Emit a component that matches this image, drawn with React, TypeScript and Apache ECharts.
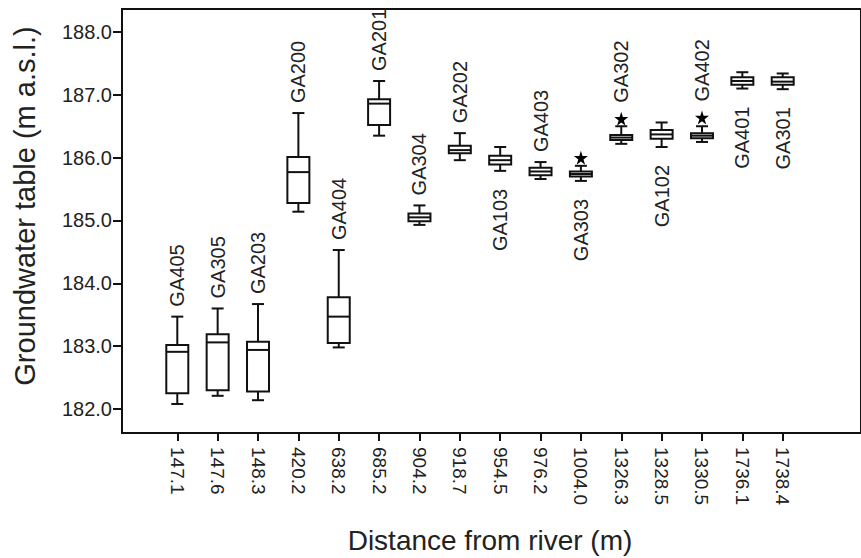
import React, { useEffect, useRef } from "react";
import * as echarts from "echarts";

// Distance from river (m) – x tick labels
const distances = ["147.1", "147.6", "148.3", "420.2", "638.2", "685.2", "904.2", "918.7", "954.5", "976.2", "1004.0", "1326.3", "1328.5", "1330.5", "1736.1", "1738.4"];
// Well names
const wells = ["GA405", "GA305", "GA203", "GA200", "GA404", "GA201", "GA304", "GA202", "GA103", "GA403", "GA303", "GA302", "GA102", "GA402", "GA401", "GA301"];
// Side of the well label relative to the box
const labelSide = ["above", "above", "above", "above", "above", "above", "above", "above", "below", "above", "below", "above", "below", "above", "below", "below"];
// Box statistics (m a.s.l.)
const whiskerLow = [182.08, 182.21, 182.14, 185.14, 182.98, 186.35, 184.93, 185.96, 185.79, 185.66, 185.63, 186.22, 186.17, 186.25, 187.10, 187.09];
const q1 = [182.25, 182.30, 182.28, 185.28, 183.05, 186.52, 184.99, 186.07, 185.89, 185.72, 185.70, 186.28, 186.30, 186.31, 187.16, 187.16];
const median = [182.91, 183.06, 182.94, 185.77, 183.47, 186.86, 185.05, 186.12, 185.96, 185.78, 185.74, 186.32, 186.37, 186.35, 187.22, 187.21];
const q3 = [183.02, 183.19, 183.07, 186.01, 183.78, 186.93, 185.11, 186.19, 186.03, 185.84, 185.78, 186.36, 186.44, 186.39, 187.28, 187.28];
const whiskerHigh = [183.47, 183.60, 183.67, 186.71, 184.53, 187.22, 185.24, 186.39, 186.17, 185.93, 185.87, 186.50, 186.56, 186.50, 187.36, 187.34];
// Extreme values (stars)
const outlierIdx = [10, 11, 13];
const outlierVal = [186.0, 186.62, 186.64];
// Y axis ticks
const yTicks = [182, 183, 184, 185, 186, 187, 188];

const FONT = '"Liberation Sans", Arial, Helvetica, sans-serif';
const STAR = "path://M50,0 L61,35 L98,35 L68,57 L79,91 L50,70 L21,91 L32,57 L2,35 L39,35 Z";

export default function App() {
  const ref = useRef<HTMLDivElement>(null);

  useEffect(() => {
    document.body.style.margin = "0";
    if (!ref.current) return;
    const chart = echarts.init(ref.current, null, { renderer: "svg" });

    const idx = distances.map((_, i) => i);
    const boxData = idx.map((i) => [i, whiskerLow[i], q1[i], median[i], q3[i], whiskerHigh[i]]);
    const starData = outlierIdx.map((i, k) => [i, outlierVal[k]]);

    const lineStyle = { stroke: "#111", lineWidth: 2 };

    const option: any = {
      animation: false,
      backgroundColor: "#fff",
      grid: {
        left: 122,
        top: 9,
        width: 775,
        height: 424,
        show: true,
        borderColor: "#111",
        borderWidth: 2,
        backgroundColor: "transparent",
      },
      xAxis: {
        type: "value",
        min: -1.37,
        max: 16.94,
        splitLine: { show: false },
        axisLine: { show: true, onZero: false, lineStyle: { color: "#111", width: 2 } },
        axisTick: { show: true, customValues: idx, length: 8, lineStyle: { color: "#111", width: 2 } },
        axisLabel: {
          customValues: idx,
          rotate: -90,
          margin: 14,
          color: "#222",
          fontSize: 19,
          fontFamily: FONT,
          formatter: (v: number) => distances[Math.round(v)] ?? "",
        },
      },
      yAxis: {
        type: "value",
        min: 181.618,
        max: 188.366,
        splitLine: { show: false },
        axisLine: { show: true, onZero: false, lineStyle: { color: "#111", width: 2 } },
        axisTick: { show: true, customValues: yTicks, length: 9, lineStyle: { color: "#111", width: 2 } },
        axisLabel: {
          customValues: yTicks,
          margin: 10,
          color: "#222",
          fontSize: 20,
          fontFamily: FONT,
          formatter: (v: number) => v.toFixed(1),
        },
      },
      graphic: [
        {
          type: "text",
          x: 490,
          y: 540,
          style: {
            text: "Distance from river (m)",
            font: `28px ${FONT}`,
            fill: "#222",
            align: "center",
            verticalAlign: "middle",
          },
        },
        {
          type: "text",
          x: 25,
          y: 206,
          rotation: Math.PI / 2,
          style: {
            text: "Groundwater table (m a.s.l.)",
            font: `29px ${FONT}`,
            fill: "#222",
            align: "center",
            verticalAlign: "middle",
          },
        },
      ],
      series: [
        {
          type: "custom",
          clip: false,
          data: boxData,
          encode: { x: 0, y: [1, 2, 3, 4, 5] },
          renderItem: (params: any, api: any) => {
            const i = api.value(0);
            const x = api.coord([i, api.value(3)])[0];
            const yLow = api.coord([i, api.value(1)])[1];
            const yQ1 = api.coord([i, api.value(2)])[1];
            const yMed = api.coord([i, api.value(3)])[1];
            const yQ3 = api.coord([i, api.value(4)])[1];
            const yHigh = api.coord([i, api.value(5)])[1];
            const k = outlierIdx.indexOf(i);
            const yTop = k >= 0 ? Math.min(yHigh, api.coord([i, outlierVal[k]])[1] - 6) : yHigh;
            const bw = 11;
            const cw = 6;
            const above = labelSide[params.dataIndex] === "above";
            return {
              type: "group",
              children: [
                { type: "line", shape: { x1: x, y1: yHigh, x2: x, y2: yQ3 }, style: lineStyle },
                { type: "line", shape: { x1: x - cw, y1: yHigh, x2: x + cw, y2: yHigh }, style: lineStyle },
                { type: "line", shape: { x1: x, y1: yQ1, x2: x, y2: yLow }, style: lineStyle },
                { type: "line", shape: { x1: x - cw, y1: yLow, x2: x + cw, y2: yLow }, style: lineStyle },
                {
                  type: "rect",
                  shape: { x: x - bw, y: yQ3, width: bw * 2, height: yQ1 - yQ3 },
                  style: { fill: "#fff", stroke: "#111", lineWidth: 2 },
                },
                { type: "line", shape: { x1: x - bw, y1: yMed, x2: x + bw, y2: yMed }, style: lineStyle },
                {
                  type: "text",
                  x: x,
                  y: above ? yTop - 10 : yLow + 18,
                  rotation: Math.PI / 2,
                  style: {
                    text: wells[params.dataIndex],
                    font: `20px ${FONT}`,
                    fill: "#222",
                    align: above ? "left" : "right",
                    verticalAlign: "middle",
                  },
                },
              ],
            };
          },
        },
        {
          type: "scatter",
          data: starData,
          symbol: STAR,
          symbolSize: 14,
          itemStyle: { color: "#000", opacity: 1 },
          z: 5,
        },
      ],
    };

    chart.setOption(option);
    return () => chart.dispose();
  }, []);

  return <div ref={ref} style={{ width: 861, height: 558 }} />;
}
